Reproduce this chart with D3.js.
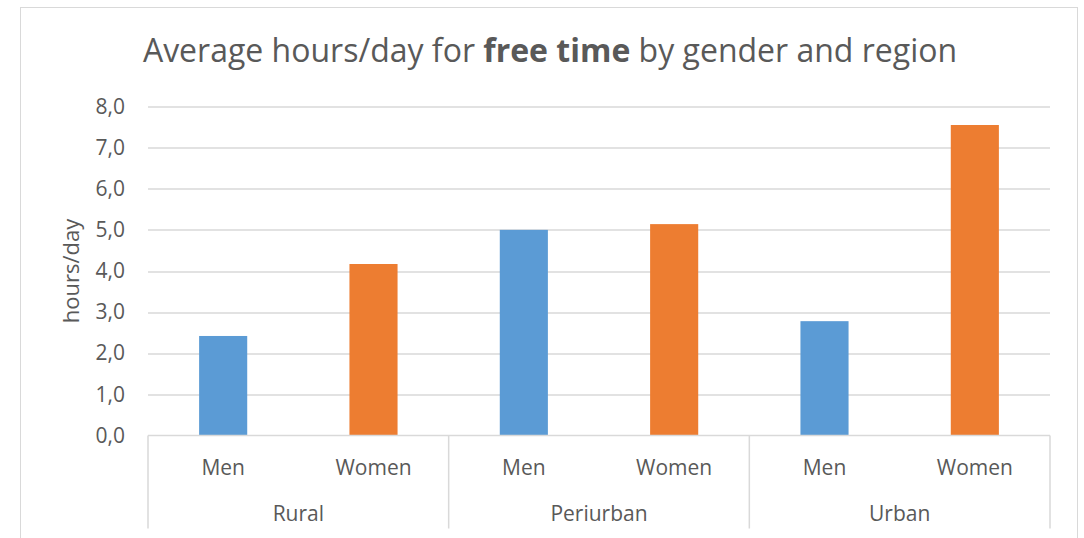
<!DOCTYPE html>
<html lang="en">
<head>
    <meta charset="UTF-8">
    <title>Free time by gender and region</title>
    <script src="https://cdn.jsdelivr.net/npm/d3@7"></script>
    <style>
        html, body {
            margin: 0;
            padding: 0;
            background: #fff;
        }

        svg text {
            font-family: "Open Sans", sans-serif;
            fill: #595959;
        }
    </style>
</head>
<body>
<div id="chart"></div>
<script>
    // data
    const regions = ['Rural', 'Periurban', 'Urban']
    const genders = ['Men', 'Women']
    const menValues = [2.42, 5.0, 2.78]
    const womenValues = [4.17, 5.14, 7.55]
    const yTicks = [0, 1, 2, 3, 4, 5, 6, 7, 8]
    const colors = {Men: '#5B9BD5', Women: '#ED7D31'}

    const width = 1084, height = 538
    const margin = {top: 106.5, left: 148, right: 34, bottom: 102.5}
    const plotW = width - margin.left - margin.right
    const plotH = height - margin.top - margin.bottom

    const rows = []
    regions.forEach((r, i) => {
        rows.push({region: r, gender: 'Men', value: menValues[i]})
        rows.push({region: r, gender: 'Women', value: womenValues[i]})
    })

    const svg = d3.select('#chart').append('svg')
        .attr('width', width).attr('height', height)

    // outer chart border (cut off at the bottom)
    svg.append('rect')
        .attr('x', 20.5).attr('y', 7.5)
        .attr('width', 1057).attr('height', 560)
        .attr('fill', 'none').attr('stroke', '#d9d9d9')

    svg.append('text')
        .attr('x', 550).attr('y', 62)
        .attr('text-anchor', 'middle')
        .style('font-size', '32px')
        .call(t => {
            t.append('tspan').text('Average hours/day for ')
            t.append('tspan').attr('font-weight', 'bold').text('free time')
            t.append('tspan').text(' by gender and region')
        })

    const g = svg.append('g').attr('transform', `translate(${margin.left},${margin.top})`)

    const y = d3.scaleLinear().domain([0, 8]).range([plotH, 0])
    const xRegion = d3.scaleBand().domain(regions).range([0, plotW])
    const xGender = d3.scaleBand().domain(genders).range([0, xRegion.bandwidth()])

    // grid
    g.append('g')
        .selectAll('line')
        .data(yTicks.filter(d => d > 0))
        .join('line')
        .attr('x1', 0).attr('x2', plotW)
        .attr('y1', d => Math.round(y(d)) + 0.5).attr('y2', d => Math.round(y(d)) + 0.5)
        .attr('stroke', '#d9d9d9').attr('stroke-width', 1.3)

    const yAxis = d3.axisLeft(y).tickValues(yTicks).tickSize(0).tickPadding(23)
        .tickFormat(d => d3.format('.1f')(d).replace('.', ','))
    g.append('g').call(yAxis)
        .call(a => a.select('.domain').remove())
        .selectAll('text')
        .style('font-size', '21px')
        .attr('fill', '#595959')

    svg.append('text')
        .attr('transform', `translate(79,${margin.top + plotH / 2}) rotate(-90)`)
        .attr('text-anchor', 'middle')
        .style('font-size', '22px')
        .text('hours/day')

    // bars
    const barW = xGender.bandwidth() * 0.32
    g.append('g')
        .selectAll('rect')
        .data(rows)
        .join('rect')
        .attr('x', d => xRegion(d.region) + xGender(d.gender) + (xGender.bandwidth() - barW) / 2)
        .attr('width', barW)
        .attr('y', d => y(d.value))
        .attr('height', d => y(0) - y(d.value))
        .attr('fill', d => colors[d.gender])

    // category axis
    const cat = g.append('g').attr('transform', `translate(0,${plotH})`)
    cat.append('line')
        .attr('x1', 0).attr('x2', plotW).attr('y1', 0).attr('y2', 0)
        .attr('stroke', '#d9d9d9').attr('stroke-width', 1.5)
    cat.selectAll('line.sep')
        .data(regions.concat(['end']))
        .join('line')
        .classed('sep', true)
        .attr('x1', (d, i) => i < regions.length ? xRegion(d) : plotW)
        .attr('x2', (d, i) => i < regions.length ? xRegion(d) : plotW)
        .attr('y1', 0).attr('y2', 93)
        .attr('stroke', '#d9d9d9').attr('stroke-width', 1.5)

    cat.selectAll('text.gender')
        .data(rows)
        .join('text')
        .classed('gender', true)
        .attr('x', d => xRegion(d.region) + xGender(d.gender) + xGender.bandwidth() / 2)
        .attr('y', 39)
        .attr('text-anchor', 'middle')
        .style('font-size', '21px')
        .text(d => d.gender)

    cat.selectAll('text.region')
        .data(regions)
        .join('text')
        .classed('region', true)
        .attr('x', d => xRegion(d) + xRegion.bandwidth() / 2)
        .attr('y', 85)
        .attr('text-anchor', 'middle')
        .style('font-size', '21px')
        .text(d => d)
</script>
</body>
</html>
